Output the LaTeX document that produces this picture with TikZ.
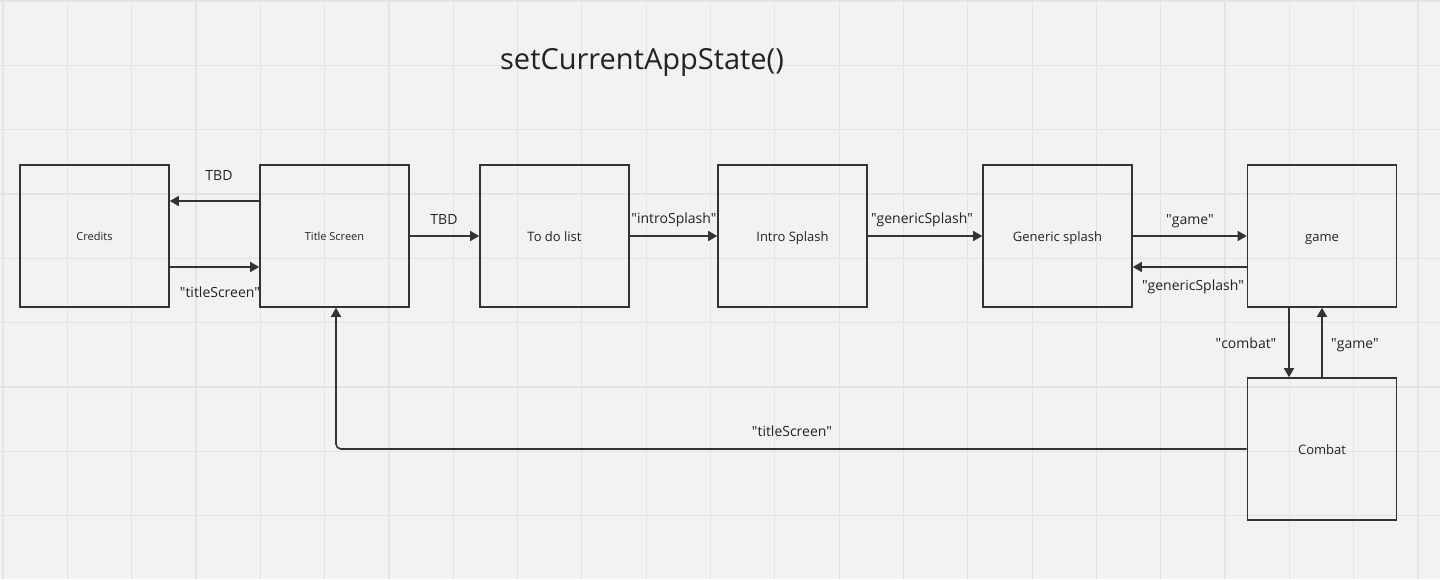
\documentclass[tikz,border=0pt]{standalone}
\usepackage{fontspec}
\setmainfont{Open Sans}
\usetikzlibrary{arrows.meta,calc}
\definecolor{bg}{HTML}{F2F2F2}
\definecolor{gridc}{HTML}{E4E4E4}
\definecolor{ink}{HTML}{333333}
\definecolor{txt}{HTML}{222222}
\newcommand{\qq}[1]{\textquotedbl #1\textquotedbl}
\tikzset{
  statebox/.style={draw=ink, line width=1.6pt, minimum width=149pt, minimum height=142pt, inner sep=0pt, font=\fontsize{13}{15}\selectfont, text=txt, text height=12pt, text depth=1pt},
  smallbox/.style={draw=ink, line width=1.6pt, minimum width=149pt, minimum height=142pt, inner sep=0pt, font=\fontsize{11}{13}\selectfont, text=txt},
  arr/.style={draw=ink, line width=1.6pt, -{Triangle[length=9pt,width=10pt]}},
  lbl/.style={font=\fontsize{14}{16}\selectfont, text=txt, inner sep=0pt, text height=10pt, text depth=0pt}
}
\begin{document}
\begin{tikzpicture}[x=1pt,y=-1pt]
\useasboundingbox (0,0) rectangle (1440,579);
\fill[bg] (0,0) rectangle (1440,579);
\foreach \i in {0,...,22} {
  \draw[gridc, line width=1.2pt] ({3+64.32*\i},0) -- ({3+64.32*\i},579);
}
\foreach \j in {0,...,8} {
  \draw[gridc, line width=1.2pt] (0,{1+64.32*\j}) -- (1440,{1+64.32*\j});
}
\node[font=\fontsize{29}{33}\selectfont, text=txt, inner sep=0pt] (title) at (642,62) {setCurrentAppState()};

\node[smallbox] (credits) at (94.5,236) {Credits};
\node[smallbox] (ts) at (334.5,236) {Title Screen};
\node[statebox] (todo) at (554.5,236) {To do list};
\node[statebox] (intro) at (792.5,236) {Intro Splash};
\node[statebox] (generic) at (1057.5,236) {Generic splash};
\node[statebox] (game) at (1322,236) {game};
\node[statebox] (combat) at (1322,449) {Combat};

\draw[arr] ([yshift=35pt]ts.west) -- ([yshift=35pt]credits.east);
\draw[arr] ([yshift=-31pt]credits.east) -- ([yshift=-31pt]ts.west);
\draw[arr] (ts.east) -- (todo.west);
\draw[arr] (todo.east) -- (intro.west);
\draw[arr] (intro.east) -- (generic.west);
\draw[arr] (generic.east) -- (game.west);
\draw[arr] ([yshift=-31pt]game.west) -- ([yshift=-31pt]generic.east);
\draw[arr] ([xshift=-33pt]game.south) -- ([xshift=-33pt]combat.north);
\draw[arr] (combat.north) -- (game.south);
\draw[arr, rounded corners=5pt] (combat.west) -- ([xshift=1.5pt]ts.south |- combat.west) -- ([xshift=1.5pt]ts.south);

\node[lbl] (l1) at (219,175) {TBD};
\node[lbl] (l2) at (220,292) {\qq{titleScreen}};
\node[lbl] (l3) at (444,219) {TBD};
\node[lbl] (l4) at (674,218) {\qq{introSplash}};
\node[lbl] (l5) at (922,218) {\qq{genericSplash}};
\node[lbl] (l6) at (1190,219) {\qq{game}};
\node[lbl] (l7) at (1193,285) {\qq{genericSplash}};
\node[lbl] (l8) at (1246,343) {\qq{combat}};
\node[lbl] (l9) at (1355,343) {\qq{game}};
\node[lbl] (l10) at (792,431) {\qq{titleScreen}};
\end{tikzpicture}
\end{document}
